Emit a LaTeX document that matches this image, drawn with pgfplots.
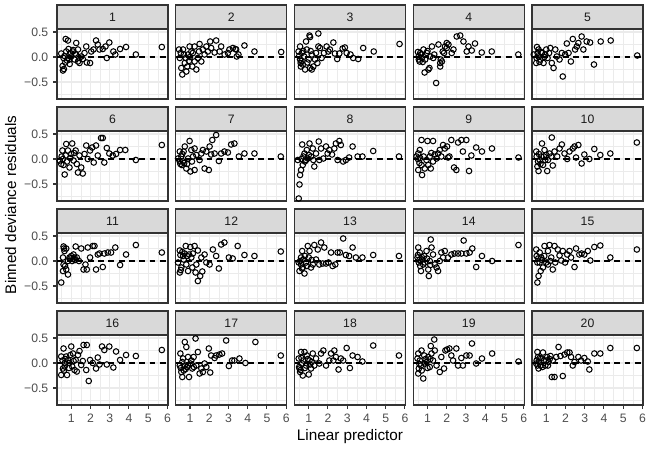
\documentclass[border=0pt]{standalone}
\usepackage{fontspec}
\setmainfont{Liberation Sans}
\usepackage{pgfplots}
\pgfplotsset{compat=1.18}
\definecolor{grey10}{HTML}{1A1A1A}
\definecolor{grey20}{HTML}{333333}
\definecolor{grey30}{HTML}{4D4D4D}
\definecolor{grey85}{HTML}{D9D9D9}
\definecolor{grey92}{HTML}{EBEBEB}
\pgfplotsset{
  panel/.style={
    scale only axis, width=79.92pt, height=50.4pt, anchor=north west,
    xmin=0.26, xmax=6.03, ymin=-0.84, ymax=0.56,
    xtick={1,2,3,4,5,6}, ytick={-0.5,0,0.5},
    minor xtick={0.5,1.5,2.5,3.5,4.5,5.5}, minor ytick={-0.75,-0.25,0.25},
    grid=both,
    major grid style={draw=grey92, line width=0.75pt},
    minor grid style={draw=grey92, line width=0.38pt},
    axis line style={draw=grey20, line width=0.75pt},
    tick align=outside, major tick length=2.75pt, minor tick length=0pt,
    xtick pos=bottom, ytick pos=left,
    xticklabels={}, yticklabels={},
    xtick style={draw=none}, ytick style={draw=none},
    tick label style={font=\fontsize{8.8}{10}\selectfont, text=grey30},
    /pgf/number format/assume math mode=true,
    clip=false,
  },
  xouter/.style={xticklabels={1,2,3,4,5,6}, xtick style={draw=grey20, line width=0.75pt}},
  youter/.style={yticklabels={−0.5,0.0,0.5}, ytick style={draw=grey20, line width=0.75pt}},
}
\newcommand{\panel}[5]{%
\begin{axis}[panel, at={(#1,#2)}, #3]
\addplot[only marks, mark=o, mark size=2pt, mark options={line width=0.75pt, draw=black}] coordinates {#5};
\addplot[black, line width=1.05pt, dash pattern=on 4.2pt off 3.2pt] coordinates {(0.26,0) (6.03,0)};
\draw[draw=grey20, fill=grey85, line width=0.75pt] (rel axis cs:0,1) rectangle ([yshift=17.28pt]rel axis cs:1,1);
\node[text=grey10, font=\fontsize{8.8}{10}\selectfont, inner sep=0pt] at ([yshift=8.64pt]rel axis cs:0.5,1) {#4};
\end{axis}}
\begin{document}
\begin{tikzpicture}
\path[use as bounding box] (0,0) rectangle (468pt,-323.28pt);
% Row 1
\panel{41.04pt}{-20.88pt}{youter}{1}{(0.71,0.36) (0.83,0.33) (0.48,0.07) (0.6,-0.02) (0.57,-0.27) (0.62,-0.24) (0.69,-0.11) (0.92,-0.14) (0.86,0.16) (0.95,0.08) (1.09,0.11) (1.19,0.07) (1.26,0.28) (1.35,0.15) (1.43,-0.02) (1.43,-0.12) (1.6,-0.04) (1.69,0.08) (1.78,0.21) (1.81,-0.11) (1.98,-0.12) (2.04,0.11) (2.16,0.15) (2.29,0.33) (2.38,0.25) (2.47,0.15) (2.64,0.16) (2.78,0.21) (2.85,-0.02) (2.98,0.29) (3.19,0.11) (3.29,0.05) (3.54,0.16) (3.85,0.2) (4.36,0.05) (5.71,0.2) (0.74,0.11) (1.0,0.01) (1.17,-0.05) (1.52,0.01) (0.83,-0.02) (1.35,-0.09) (0.55,-0.18) (0.65,0.02) (0.78,-0.07) (1.1,0.14) (1.25,0.05) (0.9,-0.05)}
\panel{126.54pt}{-20.88pt}{}{2}{(0.6,-0.35) (0.55,-0.22) (0.47,-0.02) (0.43,0.15) (0.64,0.15) (0.73,-0.12) (0.81,-0.29) (0.9,0.05) (0.98,0.21) (1.07,0.11) (1.24,0.21) (1.24,-0.09) (1.33,-0.25) (1.47,0.11) (1.5,0.26) (1.59,-0.09) (1.67,0.15) (1.76,0.05) (1.85,0.21) (1.93,0.11) (2.1,0.18) (2.05,0.31) (2.36,0.33) (2.28,0.09) (2.54,0.11) (2.62,0.21) (2.8,0.05) (2.97,0.08) (3.05,0.15) (3.23,0.18) (3.36,0.16) (3.43,0.01) (0.78,-0.02) (1.41,-0.02) (1.12,-0.19) (0.86,-0.19) (3.4,0.15) (3.83,0.23) (4.35,0.11) (5.74,0.1) (3.52,0.05) (0.52,0.08) (0.68,0.05) (1.0,0.0) (1.15,0.08) (0.95,-0.08)}
\panel{212.04pt}{-20.88pt}{}{3}{(1.04,0.43) (1.07,0.4) (1.5,0.47) (0.55,0.21) (0.47,0.11) (0.55,-0.05) (0.59,-0.19) (0.69,-0.15) (0.64,0.08) (0.76,0.01) (0.9,0.15) (0.86,0.31) (0.93,-0.11) (1.07,-0.22) (1.16,-0.25) (1.24,-0.19) (1.33,-0.05) (1.38,0.08) (1.45,-0.12) (1.59,0.18) (1.67,-0.02) (1.79,0.08) (1.93,0.21) (2.02,0.11) (2.1,0.15) (2.28,0.29) (2.36,0.07) (2.48,-0.04) (2.59,0.07) (2.76,0.17) (2.88,0.19) (2.97,0.08) (3.17,0.05) (3.31,-0.02) (3.57,-0.04) (3.83,0.18) (4.38,0.11) (5.72,0.26) (1.5,0.21) (1.16,0.05) (0.81,-0.25) (0.5,0.02) (0.62,-0.08) (0.72,0.12) (1.0,-0.05) (1.1,0.12) (0.58,-0.12)}
\panel{297.54pt}{-20.88pt}{}{4}{(0.62,0.08) (0.59,-0.09) (0.71,-0.02) (0.79,0.15) (0.85,-0.31) (1.1,-0.22) (1.05,-0.25) (1.45,-0.52) (1.23,0.21) (1.35,0.05) (1.57,0.25) (1.66,-0.12) (1.69,-0.05) (1.79,0.11) (1.91,0.21) (2.0,0.28) (0.97,0.08) (1.14,0.01) (0.54,0.01) (0.88,-0.05) (1.66,-0.19) (1.75,-0.09) (2.0,0.18) (2.09,0.25) (2.35,0.15) (2.52,0.41) (2.7,0.43) (2.87,0.31) (3.04,0.11) (3.13,0.21) (3.3,0.13) (3.47,0.27) (3.82,0.09) (4.34,0.11) (5.72,0.05) (2.26,0.08) (1.86,0.08) (0.5,0.1) (0.66,0.05) (0.75,-0.1) (1.0,0.12) (1.3,-0.02) (0.55,-0.05)}
\panel{383.04pt}{-20.88pt}{}{5}{(0.52,0.2) (0.6,0.15) (0.48,-0.12) (0.69,-0.05) (0.6,0.01) (0.78,0.08) (0.86,-0.12) (1.0,0.15) (1.07,-0.02) (1.21,0.18) (1.29,-0.12) (1.38,-0.22) (1.47,0.15) (1.55,0.01) (1.69,-0.05) (1.86,-0.39) (1.81,0.08) (1.98,0.05) (2.07,0.27) (2.16,0.08) (2.28,-0.09) (2.38,0.36) (2.5,0.15) (2.59,0.21) (2.67,0.28) (2.84,0.41) (2.93,0.15) (3.1,0.31) (3.28,0.29) (3.48,-0.15) (3.83,0.31) (4.35,0.33) (5.73,0.03) (0.35,0.05) (0.95,0.05) (0.5,-0.02) (0.65,-0.1) (0.72,0.1) (0.9,0.0) (1.15,0.08) (0.55,0.08)}
% Row 2
\panel{41.04pt}{-94.32pt}{youter}{6}{(2.55,0.42) (2.64,0.42) (0.74,0.3) (1.05,0.31) (0.48,-0.1) (0.66,-0.31) (0.57,0.0) (0.71,0.07) (0.83,0.17) (0.91,-0.17) (1.0,0.1) (1.12,-0.03) (1.23,0.17) (1.29,-0.1) (1.43,0.07) (1.52,-0.17) (1.35,-0.27) (1.6,-0.29) (1.69,0.1) (1.78,0.27) (1.86,0.0) (1.98,0.17) (2.09,0.23) (2.17,-0.07) (2.29,0.27) (2.38,0.07) (2.72,-0.07) (2.85,0.22) (2.98,0.11) (3.16,0.07) (3.33,0.1) (3.54,0.18) (3.81,0.18) (4.36,-0.02) (5.71,0.28) (0.54,0.17) (0.4,-0.03) (0.6,-0.12) (0.78,-0.05) (0.95,0.02) (1.15,0.12) (0.5,0.05)}
\panel{126.54pt}{-94.32pt}{}{7}{(2.36,0.48) (2.16,0.38) (0.98,0.36) (0.73,0.25) (0.47,0.15) (0.55,0.05) (0.64,-0.05) (0.47,-0.05) (0.81,-0.19) (1.02,-0.25) (1.24,-0.22) (0.9,0.01) (1.07,0.18) (1.24,0.21) (1.33,0.08) (1.5,-0.02) (1.59,0.11) (1.76,-0.19) (1.98,-0.22) (1.85,0.15) (2.02,0.25) (2.1,0.09) (2.28,0.11) (2.5,-0.04) (2.62,0.11) (2.79,0.15) (2.97,0.13) (3.14,0.29) (3.31,0.31) (3.54,0.05) (3.83,0.11) (4.35,0.11) (5.72,0.05) (0.67,0.15) (1.16,0.05) (1.67,0.18) (0.38,0.01) (0.5,-0.1) (0.58,-0.12) (0.7,-0.08) (0.85,-0.1) (1.1,-0.05) (0.6,0.1)}
\panel{212.04pt}{-94.32pt}{}{8}{(0.48,-0.79) (0.52,-0.51) (0.55,-0.32) (0.6,-0.22) (0.69,-0.12) (0.43,-0.02) (0.66,0.29) (0.78,0.11) (0.86,-0.02) (0.9,0.18) (1.04,0.31) (1.12,0.05) (1.21,0.21) (1.29,-0.15) (1.38,0.11) (1.52,0.35) (1.55,-0.02) (1.64,0.21) (1.76,0.01) (1.9,0.25) (1.98,0.11) (2.07,0.18) (2.21,0.09) (2.33,0.21) (2.41,0.31) (2.59,0.36) (2.67,0.28) (2.5,-0.02) (2.79,-0.05) (2.93,-0.02) (3.1,0.03) (3.28,0.25) (3.54,0.05) (3.79,0.05) (4.35,0.16) (5.69,0.05) (0.95,0.01) (1.24,-0.02) (0.72,0.05) (0.8,-0.05) (1.0,0.08) (0.62,0.0)}
\panel{297.54pt}{-94.32pt}{}{9}{(0.69,0.38) (1.0,0.36) (1.29,0.36) (0.52,0.11) (0.43,0.05) (0.6,0.18) (0.69,-0.12) (0.52,-0.22) (0.72,-0.32) (0.86,-0.19) (0.95,-0.02) (1.04,-0.12) (1.12,0.05) (1.17,-0.19) (1.29,-0.05) (1.38,0.09) (1.47,0.01) (1.55,0.11) (1.64,0.18) (1.81,0.28) (1.9,0.21) (2.02,0.25) (2.14,0.05) (2.24,0.38) (2.38,-0.17) (2.5,-0.22) (2.59,0.33) (2.76,0.38) (3.02,0.38) (2.84,0.15) (3.16,-0.24) (3.28,0.07) (3.53,0.23) (3.83,0.15) (4.35,0.21) (5.73,0.03) (1.72,0.05) (2.07,0.03) (0.5,0.0) (0.62,0.02) (0.8,0.05) (1.2,0.12) (0.58,-0.08)}
\panel{383.04pt}{-94.32pt}{}{10}{(1.29,0.43) (0.78,0.31) (0.48,0.15) (0.57,-0.05) (0.54,-0.15) (0.6,-0.24) (0.74,0.05) (0.83,-0.12) (0.91,0.18) (1.05,-0.24) (1.09,-0.02) (1.17,0.11) (1.26,0.05) (1.34,-0.13) (1.43,0.15) (1.57,0.05) (1.69,0.21) (1.81,0.29) (1.95,0.11) (2.09,0.0) (2.21,0.15) (2.38,0.21) (2.47,0.25) (2.67,0.28) (2.55,0.03) (2.84,-0.09) (2.98,0.09) (3.24,0.0) (3.5,0.2) (3.81,0.08) (4.33,0.11) (5.71,0.33) (0.66,-0.02) (0.95,-0.02) (0.5,0.05) (0.62,0.1) (0.7,-0.1) (0.88,0.05) (1.0,0.08)}
% Row 3
\panel{41.04pt}{-167.76pt}{youter}{11}{(0.48,-0.43) (0.57,-0.2) (0.6,-0.07) (0.6,0.29) (0.74,0.25) (0.83,-0.27) (0.74,-0.17) (0.91,0.07) (1.0,0.1) (1.05,0.0) (1.12,0.13) (1.23,0.29) (1.29,0.07) (1.4,0.0) (1.52,0.25) (1.64,-0.17) (1.74,-0.07) (1.81,-0.17) (1.86,0.27) (1.98,0.07) (2.12,0.3) (2.21,0.3) (2.29,-0.17) (2.38,0.13) (2.47,0.15) (2.64,-0.12) (2.72,0.15) (2.9,0.17) (3.07,0.17) (3.29,0.27) (3.54,-0.08) (3.85,0.13) (4.36,0.32) (5.71,0.17) (0.83,0.0) (1.17,0.07) (0.57,0.07) (0.65,0.2) (0.68,-0.1) (0.95,0.05) (1.1,0.04) (1.2,0.02) (0.62,0.25)}
\panel{126.54pt}{-167.76pt}{}{12}{(0.47,0.21) (0.47,-0.23) (0.55,-0.13) (0.64,0.1) (0.67,0.03) (0.78,0.3) (0.9,-0.2) (1.02,0.28) (1.07,0.07) (1.12,-0.13) (1.24,0.3) (1.29,-0.23) (1.33,-0.07) (1.41,-0.4) (1.41,0.21) (1.53,-0.3) (1.64,-0.21) (1.76,0.13) (1.85,-0.03) (2.02,-0.07) (2.19,0.23) (2.36,0.1) (2.5,-0.15) (2.62,0.33) (2.79,0.37) (3.02,0.07) (3.22,0.05) (3.48,0.3) (3.83,0.12) (4.35,0.1) (5.72,0.19) (0.38,-0.03) (0.81,-0.07) (0.95,0.13) (1.59,0.07) (0.5,0.12) (0.6,0.18) (0.72,0.15) (0.85,0.1) (1.15,0.15) (0.52,-0.18)}
\panel{212.04pt}{-167.76pt}{}{13}{(0.48,-0.03) (0.52,-0.2) (0.66,0.2) (0.6,0.07) (0.69,-0.13) (0.78,-0.25) (0.86,-0.03) (0.95,0.3) (1.0,0.07) (1.12,-0.13) (1.21,-0.07) (1.29,0.32) (1.38,0.03) (1.47,0.23) (1.55,-0.07) (1.64,0.37) (1.73,-0.05) (1.81,0.27) (1.9,-0.05) (2.03,-0.03) (2.16,0.17) (2.24,-0.1) (2.38,-0.07) (2.5,0.17) (2.62,0.17) (2.79,0.45) (2.93,0.12) (3.1,0.1) (3.28,0.27) (3.45,0.07) (3.79,0.07) (4.35,0.12) (5.69,0.1) (1.04,0.2) (0.6,-0.07) (0.55,0.0) (0.72,0.03) (0.8,0.1) (0.9,-0.1) (1.15,0.02) (0.65,-0.15)}
\panel{297.54pt}{-167.76pt}{}{14}{(1.17,0.43) (1.21,0.27) (0.52,0.27) (0.6,0.17) (0.48,0.07) (0.55,-0.03) (0.66,-0.2) (0.78,-0.07) (0.83,0.1) (0.95,0.2) (1.04,-0.17) (1.07,-0.3) (1.12,0.0) (1.29,0.13) (1.38,-0.07) (1.47,-0.13) (1.55,-0.2) (1.64,0.0) (1.72,0.17) (1.9,0.2) (1.81,0.07) (2.07,0.07) (2.24,0.13) (2.41,0.15) (2.59,0.15) (2.76,0.15) (2.88,0.41) (3.02,0.15) (3.19,0.17) (3.33,0.25) (3.53,-0.12) (3.83,0.1) (4.36,0.0) (5.73,0.32) (0.72,0.03) (0.86,-0.03) (0.5,0.12) (0.62,-0.1) (0.7,0.08) (0.98,0.05) (1.15,-0.08) (0.58,0.02)}
\panel{383.04pt}{-167.76pt}{}{15}{(0.54,-0.43) (0.6,-0.3) (0.71,-0.2) (0.48,0.23) (0.54,-0.03) (0.66,0.17) (0.74,0.07) (0.83,-0.13) (0.91,0.3) (1.0,-0.03) (1.09,0.2) (1.17,0.32) (1.26,0.07) (1.34,-0.17) (1.43,0.3) (1.47,-0.03) (1.6,0.23) (1.69,0.11) (1.78,0.01) (1.86,0.2) (1.98,-0.03) (2.09,0.13) (2.21,0.2) (2.29,0.07) (2.47,-0.12) (2.55,0.25) (2.72,0.13) (2.84,0.15) (2.98,0.13) (3.16,0.2) (3.29,0.01) (3.5,0.28) (3.81,0.31) (4.33,0.07) (5.71,0.23) (1.09,-0.07) (0.66,-0.03) (0.5,0.1) (0.58,0.05) (0.78,0.02) (0.9,0.1) (1.2,0.0)}
% Row 4
\panel{41.04pt}{-241.2pt}{youter,xouter}{16}{(0.48,-0.24) (0.57,-0.11) (0.48,0.13) (0.6,0.29) (0.66,0.0) (0.74,0.13) (0.78,-0.24) (0.83,0.06) (0.91,0.0) (1.0,0.33) (1.05,-0.07) (1.09,0.19) (1.17,-0.14) (1.23,0.06) (1.29,-0.17) (1.35,0.16) (1.43,0.24) (1.52,-0.04) (1.6,0.04) (1.64,0.36) (1.81,0.36) (1.78,-0.14) (1.91,-0.36) (1.98,0.06) (2.12,0.0) (2.29,-0.11) (2.38,0.11) (2.47,-0.03) (2.6,0.33) (2.72,0.26) (2.85,-0.03) (2.98,0.33) (3.19,-0.09) (3.33,0.23) (3.54,0.06) (3.85,0.16) (4.36,0.14) (5.71,0.26) (0.66,-0.07) (0.95,0.16) (0.55,0.05) (0.7,0.08) (0.88,-0.1) (1.12,0.04) (0.62,-0.15)}
\panel{126.54pt}{-241.2pt}{xouter}{17}{(0.6,-0.28) (0.47,-0.05) (0.5,0.19) (0.64,0.09) (0.73,0.42) (0.81,0.32) (0.55,-0.18) (0.84,-0.08) (0.9,0.12) (0.95,-0.28) (1.02,-0.01) (1.12,-0.11) (1.19,0.12) (1.29,0.49) (1.33,-0.05) (1.41,0.22) (1.5,-0.21) (1.59,-0.11) (1.67,-0.18) (1.76,-0.01) (1.85,-0.08) (1.98,0.29) (2.05,-0.19) (2.1,0.15) (2.28,0.1) (2.36,0.15) (2.53,0.17) (2.67,0.19) (2.88,0.45) (3.02,-0.06) (3.19,0.05) (3.31,0.05) (3.57,0.09) (3.88,0.0) (4.4,0.42) (5.72,0.15) (0.72,-0.05) (1.07,0.05) (0.52,-0.1) (0.6,0.02) (0.78,-0.12) (0.9,-0.05) (1.2,-0.08) (0.68,-0.15)}
\panel{212.04pt}{-241.2pt}{xouter}{18}{(0.52,-0.11) (0.55,-0.18) (0.48,0.09) (0.6,0.22) (0.69,-0.25) (0.78,0.22) (0.86,-0.05) (0.9,0.15) (1.0,-0.23) (1.04,0.05) (1.12,-0.11) (1.21,0.19) (1.29,-0.05) (1.38,0.09) (1.55,-0.01) (1.64,0.19) (1.76,0.25) (1.9,-0.05) (2.07,0.05) (2.16,0.19) (2.28,0.05) (2.33,0.25) (2.41,0.12) (2.55,-0.13) (2.67,0.09) (2.79,0.05) (2.97,0.3) (3.14,-0.1) (3.28,0.15) (3.54,0.12) (3.79,0.03) (4.35,0.35) (5.69,0.15) (0.66,-0.01) (1.07,-0.03) (0.5,-0.08) (0.58,-0.14) (0.62,0.1) (0.72,0.05) (0.8,-0.1) (0.95,0.08) (1.15,0.02)}
\panel{297.54pt}{-241.2pt}{xouter}{19}{(1.35,0.47) (1.17,0.34) (0.69,0.25) (0.52,0.19) (0.48,0.09) (0.55,-0.11) (0.52,-0.21) (0.78,-0.31) (0.66,-0.05) (0.83,0.15) (0.95,0.02) (1.04,0.12) (1.12,-0.08) (1.21,0.19) (1.29,0.05) (1.38,0.25) (1.47,-0.05) (1.64,-0.18) (1.72,0.12) (1.86,-0.11) (1.93,0.25) (2.02,0.27) (2.14,0.29) (2.24,0.15) (2.33,0.05) (2.5,0.29) (2.59,-0.05) (2.76,0.1) (2.84,-0.05) (3.02,0.15) (3.19,0.15) (3.31,0.39) (3.53,-0.01) (3.83,0.09) (4.36,0.19) (5.73,0.03) (0.86,-0.01) (0.6,0.05) (0.7,-0.15) (0.9,0.08) (1.0,-0.1) (1.15,0.08) (0.58,-0.02)}
\panel{383.04pt}{-241.2pt}{xouter}{20}{(0.54,0.22) (0.57,0.12) (0.48,-0.01) (0.6,-0.11) (0.71,-0.05) (0.83,0.21) (0.88,0.05) (0.95,-0.05) (1.05,0.12) (1.12,0.02) (1.22,0.14) (1.29,-0.28) (1.43,-0.28) (1.34,0.05) (1.52,0.12) (1.64,0.32) (1.74,0.14) (1.86,-0.26) (1.95,0.17) (2.09,0.21) (2.21,0.21) (2.29,0.12) (2.38,-0.05) (2.47,0.02) (2.67,0.12) (2.81,0.05) (2.98,0.1) (3.16,0.03) (3.24,-0.13) (3.5,0.19) (3.81,0.19) (4.33,0.3) (5.71,0.3) (0.74,0.09) (1.09,-0.05) (0.5,0.05) (0.62,0.02) (0.66,0.1) (0.8,-0.08) (1.0,0.05) (1.18,0.08) (0.55,-0.05)}
\node[rotate=90, font=\fontsize{11}{13}\selectfont] at (7.6pt,-147.6pt) {Binned deviance residuals};
\node[font=\fontsize{11}{13}\selectfont] at (252pt,-314.6pt) {Linear predictor};
\end{tikzpicture}
\end{document}
